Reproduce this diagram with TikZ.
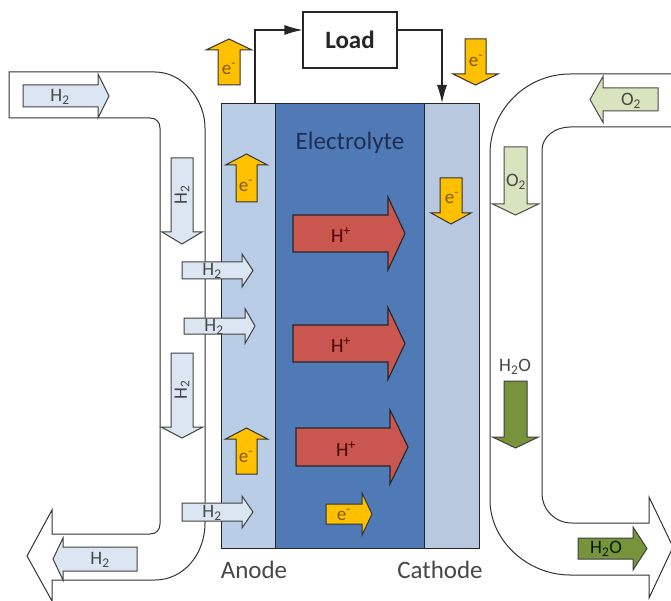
\documentclass[tikz,border=0pt]{standalone}
\usepackage{fontspec}
\setmainfont{Carlito}
\usetikzlibrary{arrows.meta}
\definecolor{anodec}{HTML}{B9CDE6}
\definecolor{electc}{HTML}{4F7AB5}
\definecolor{cathc}{HTML}{B8C9DF}
\definecolor{htwo}{HTML}{DCE6F2}
\definecolor{eyel}{HTML}{FFC000}
\definecolor{hplus}{HTML}{C9564F}
\definecolor{otwo}{HTML}{D7E4BD}
\definecolor{water}{HTML}{77933C}
\definecolor{etext}{HTML}{7F5A10}
\definecolor{navytext}{HTML}{1F2F52}
\newcommand\blockH[7]{\filldraw[#1] (#2,{#5-#6}) -- (#3,{#5-#6}) -- (#3,{#5-#7}) -- (#4,#5) -- (#3,{#5+#7}) -- (#3,{#5+#6}) -- (#2,{#5+#6}) -- cycle;}
\newcommand\blockV[7]{\filldraw[#1] ({#5-#6},#2) -- ({#5-#6},#3) -- ({#5-#7},#3) -- (#5,#4) -- ({#5+#7},#3) -- ({#5+#6},#3) -- ({#5+#6},#2) -- cycle;}
\tikzset{
  pipe/.style={fill=white, draw=black!80, line width=1pt},
  cellpart/.style={draw=black!85, line width=1.2pt, inner sep=0pt, anchor=north west, minimum height=445pt},
  h2arr/.style={fill=htwo, draw=black!75, line width=1pt},
  earr/.style={fill=eyel, draw=black!80, line width=1pt},
  hparr/.style={fill=hplus, draw=black!85, line width=1.1pt},
  o2arr/.style={fill=otwo, draw=black!70, line width=1pt},
  wparr/.style={fill=water, draw=black!75, line width=1pt},
  lbl/.style={font=\fontsize{19}{19}\selectfont, text=black!72, inner sep=0pt},
  elbl/.style={font=\fontsize{19}{19}\selectfont, text=etext, inner sep=0pt},
  hlbl/.style={font=\fontsize{20}{20}\selectfont, text=black!70!red, inner sep=0pt},
  big/.style={font=\fontsize{25}{25}\selectfont, inner sep=0pt},
  wire/.style={draw=black!85, line width=1.1pt, -{Latex[length=18pt,width=10pt]}}
}
\begin{document}
\begin{tikzpicture}[x=1pt,y=-1pt]
\useasboundingbox (0,0) rectangle (671,601);
\fill[white] (0,0) rectangle (671,601);
% left pipe
\path[pipe] (9,72) -- (155,72) .. controls (183,72) and (205,100) .. (205,128) -- (205,523)
  .. controls (205,555) and (183,580) .. (155,580) -- (52,580) -- (52,601) -- (27,556) -- (52,510)
  -- (52,534) -- (150,534) .. controls (156,534) and (160,530) .. (160,524) -- (160,128)
  .. controls (160,122) and (156,118) .. (150,118) -- (9,118) -- cycle;
% right pipe
\path[pipe] (676,74) -- (570,74) .. controls (526,74) and (490,110) .. (490,154) -- (490,500)
  .. controls (490,541) and (528,575) .. (570,575) -- (649,575) -- (649,598) -- (673,547) -- (649,497)
  -- (649,523) -- (572,523) .. controls (555,523) and (542,510) .. (542,493) -- (542,150)
  .. controls (542,137) and (555,127) .. (570,127) -- (676,127);
% cell
\node[cellpart, fill=anodec, minimum width=54pt] (anode) at (221,103) {};
\node[cellpart, fill=electc, minimum width=149pt] (electrolyte) at (275,103) {};
\node[cellpart, fill=cathc, minimum width=55pt] (cathode) at (424,103) {};
\node[big, text=navytext] (elabel) at (350,143) {Electrolyte};
\node[big, text=black!72, anchor=base] (anodelbl) at (254,578) {Anode};
\node[big, text=black!72, anchor=base] (cathodelbl) at (440,578) {Cathode};
% load
\node[draw=black!85, line width=1.1pt, fill=white, minimum width=94pt, minimum height=56pt, font=\fontsize{25}{25}\selectfont\bfseries, text=black!85] (load) at (350,40) {Load};
\draw[wire] ([xshift=34pt]anode.north west) |- ([yshift=10pt]load.west);
\draw[wire] ([yshift=10pt]load.east) -| ([xshift=18pt]cathode.north west);
% H2 arrows
\blockH{h2arr}{23}{98}{109}{96}{11}{22}
\node[lbl] (h2a) at (60,97) {H\textsubscript{2}};
\blockV{h2arr}{158}{232}{244}{182}{11}{20}
\node[lbl, rotate=90] (h2b) at (182,195) {H\textsubscript{2}};
\blockH{h2arr}{182}{242}{253}{270.5}{8.5}{16.5}
\node[lbl] (h2c) at (212,271) {H\textsubscript{2}};
\blockH{h2arr}{184}{245}{255}{326}{8}{17.5}
\node[lbl] (h2d) at (214,327) {H\textsubscript{2}};
\blockV{h2arr}{353}{427}{438}{182}{11}{21}
\node[lbl, rotate=90] (h2e) at (182,390) {H\textsubscript{2}};
\blockH{h2arr}{182}{242}{253}{512}{9}{16}
\node[lbl] (h2f) at (212,513) {H\textsubscript{2}};
\blockH{h2arr}{137}{63}{53}{559}{12}{21}
\node[lbl] (h2g) at (100,560) {H\textsubscript{2}};
% electron arrows
\blockV{earr}{85}{50}{39}{229}{11}{23}
\node[elbl] (e1) at (229,69) {e\textsuperscript{-}};
\blockV{earr}{39}{74}{85}{475.5}{10.5}{22.5}
\node[elbl] (e2) at (476,61) {e\textsuperscript{-}};
\blockV{earr}{202}{165}{154}{246.5}{10.5}{21}
\node[elbl] (e3) at (246,186) {e\textsuperscript{-}};
\blockV{earr}{178}{213}{224}{451}{11}{20}
\node[elbl] (e4) at (452,198) {e\textsuperscript{-}};
\blockV{earr}{474}{439}{428}{246.5}{10.5}{21}
\node[elbl] (e5) at (246,457) {e\textsuperscript{-}};
\blockH{earr}{326}{362}{372}{514}{10}{21}
\node[elbl] (e6) at (344,515) {e\textsuperscript{-}};
% proton arrows
\blockH{hparr}{293}{388}{405}{233.5}{18.5}{36.5}
\node[hlbl] (hp1) at (341,235) {H\textsuperscript{+}};
\blockH{hparr}{293}{388}{405}{343.5}{18.5}{36}
\node[hlbl] (hp2) at (341,345) {H\textsuperscript{+}};
\blockH{hparr}{296}{390}{408}{447}{19}{37}
\node[hlbl] (hp3) at (346,449) {H\textsuperscript{+}};
% oxygen arrows
\blockH{o2arr}{658}{603}{590}{99.5}{11.5}{23}
\node[lbl] (o2a) at (631,101) {O\textsubscript{2}};
\blockV{o2arr}{147}{204}{215}{515.5}{11.5}{23}
\node[lbl] (o2b) at (516,182) {O\textsubscript{2}};
% water arrows
\blockV{wparr}{381}{437}{448}{515.5}{11.5}{23}
\node[lbl] (w1) at (515,367) {H\textsubscript{2}O};
\blockH{wparr}{578}{633}{647}{548.5}{10.5}{21.5}
\node[lbl, text=black!70!green!40!black] (w2) at (606,549) {H\textsubscript{2}O};
\end{tikzpicture}
\end{document}
